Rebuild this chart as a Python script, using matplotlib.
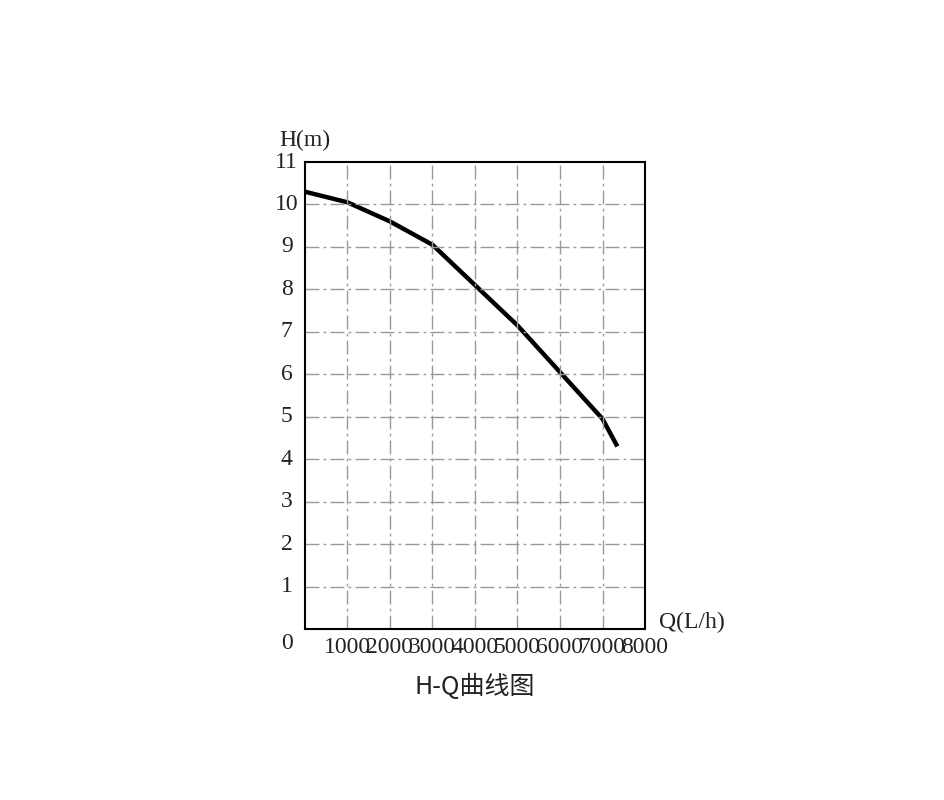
import matplotlib.pyplot as plt

q = [0, 1000, 2000, 3000, 4000, 5000, 6000, 7000, 7350]
h = [10.3, 10.05, 9.6, 9.05, 8.1, 7.15, 6.05, 4.95, 4.3]
xticks = [1000, 2000, 3000, 4000, 5000, 6000, 7000, 8000]
yticks = list(range(1, 12))

fig = plt.figure(figsize=(9.45, 8), dpi=100)
ax = fig.add_axes([305/945, 1-629/800, 340/945, 467/800])
ax.set_xlim(0, 8000)
ax.set_ylim(0, 11)
ax.plot(q, h, color='black', lw=3.2, solid_capstyle='butt')
for x in xticks[:-1]:
    ax.axvline(x, color='#999999', lw=1, ls=(0, (10, 3, 2, 3)))
for y in yticks[:-1]:
    ax.axhline(y, color='#999999', lw=1, ls=(0, (10, 3, 2, 3)))
for s in ax.spines.values():
    s.set_linewidth(1.5)
ax.set_xticks([]); ax.set_yticks([])
fnt = dict(family='Liberation Serif', fontsize=17, color='#222222')
for x in xticks:
    ax.text(x, -0.2, str(x), ha='center', va='top', **fnt)
for y in yticks:
    ax.text(-430, y, str(y), ha='center', va='center', **fnt)
ax.text(-430, -0.35, '0', ha='center', va='center', **fnt)
ax.text(0, 11.25, 'H(m)', ha='center', va='bottom', **fnt)
ax.text(8330, 0.15, 'Q(L/h)', ha='left', va='center', **fnt)
ax.text(4000, -1.05, 'H-Q曲线图', ha='center', va='top',
        family=['Noto Sans CJK SC', 'DejaVu Sans'], fontsize=18, color='#222222')
fig.savefig('out.png', dpi=100)
